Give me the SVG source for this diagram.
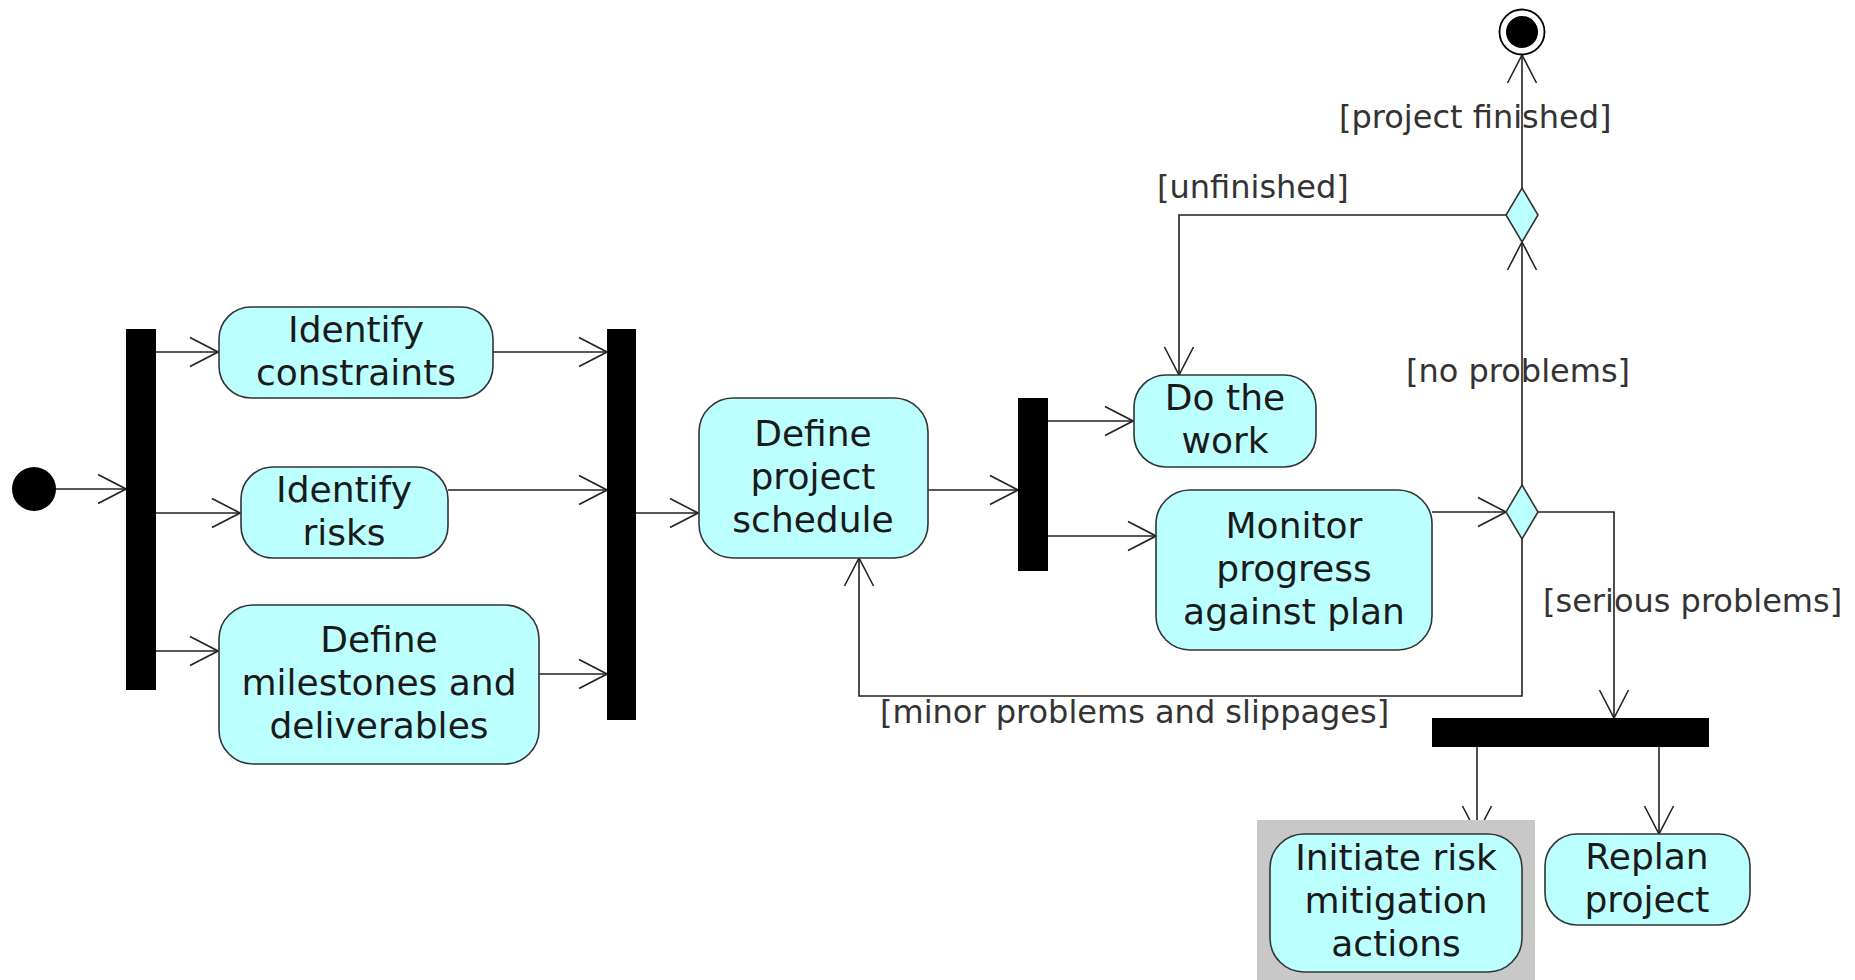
<svg xmlns="http://www.w3.org/2000/svg" width="1855" height="980" viewBox="0 0 1855 980">
<defs>
<style>
.act{fill:#bbffff;stroke:#333;stroke-width:1.6}
.bar{fill:#000}
.dec{fill:#bbffff;stroke:#333;stroke-width:1.6}
.nt{font-family:"DejaVu Sans",sans-serif;font-size:36px;fill:#1a1a1a;text-anchor:middle}
.lb{font-family:"DejaVu Sans",sans-serif;font-size:32px;fill:#333}
.c{fill:none;stroke:#222;stroke-width:1.6}
</style>
<marker id="arr" viewBox="0 0 30 32" refX="29" refY="16" markerWidth="30" markerHeight="32" markerUnits="userSpaceOnUse" orient="auto">
<path d="M1,1.5 L29,16 L1,30.5" fill="none" stroke="#222" stroke-width="1.6"/>
</marker>
</defs>
<rect width="1855" height="980" fill="#fff"/>

<g id="connectors">
<line class="c" x1="56" y1="489" x2="126" y2="489" marker-end="url(#arr)"/>
<line class="c" x1="156" y1="352" x2="218" y2="352" marker-end="url(#arr)"/>
<line class="c" x1="156" y1="513" x2="240" y2="513" marker-end="url(#arr)"/>
<line class="c" x1="156" y1="651" x2="218" y2="651" marker-end="url(#arr)"/>
<line class="c" x1="493" y1="352" x2="607" y2="352" marker-end="url(#arr)"/>
<line class="c" x1="448" y1="490" x2="607" y2="490" marker-end="url(#arr)"/>
<line class="c" x1="539" y1="674" x2="607" y2="674" marker-end="url(#arr)"/>
<line class="c" x1="636" y1="513" x2="698" y2="513" marker-end="url(#arr)"/>
<line class="c" x1="928" y1="490" x2="1018" y2="490" marker-end="url(#arr)"/>
<line class="c" x1="1048" y1="421" x2="1133" y2="421" marker-end="url(#arr)"/>
<line class="c" x1="1048" y1="536" x2="1156" y2="536" marker-end="url(#arr)"/>
<line class="c" x1="1432" y1="512" x2="1506" y2="512" marker-end="url(#arr)"/>
<line class="c" x1="1522" y1="485" x2="1522" y2="242" marker-end="url(#arr)"/>
<polyline class="c" points="1506,215 1179,215 1179,375" marker-end="url(#arr)"/>
<line class="c" x1="1522" y1="188" x2="1522" y2="55" marker-end="url(#arr)"/>
<polyline class="c" points="1538,512 1614,512 1614,718" marker-end="url(#arr)"/>
<polyline class="c" points="1522,539 1522,696 859,696 859,558" marker-end="url(#arr)"/>
<line class="c" x1="1477" y1="747" x2="1477" y2="834" marker-end="url(#arr)"/>
<line class="c" x1="1659" y1="747" x2="1659" y2="834" marker-end="url(#arr)"/>
<text class="lb" x="1339" y="128">[project finished]</text>
<text class="lb" x="1157" y="198">[unfinished]</text>
<text class="lb" x="1406" y="382">[no problems]</text>
<text class="lb" x="1543" y="612">[serious problems]</text>
<text class="lb" x="880" y="723">[minor problems and slippages]</text>
</g>

<g id="initial"><circle cx="34" cy="489" r="22" fill="#000"/></g>
<g id="fork1"><rect class="bar" x="126" y="329" width="30" height="361"/></g>
<g id="identify-constraints">
<rect class="act" x="219" y="307" width="274" height="91" rx="32"/>
<text class="nt" x="356" y="342">Identify</text>
<text class="nt" x="356" y="385">constraints</text>
</g>
<g id="identify-risks">
<rect class="act" x="241" y="467" width="207" height="91" rx="32"/>
<text class="nt" x="344" y="502">Identify</text>
<text class="nt" x="344" y="545">risks</text>
</g>
<g id="define-milestones">
<rect class="act" x="219" y="605" width="320" height="159" rx="34"/>
<text class="nt" x="379" y="652">Define</text>
<text class="nt" x="379" y="695">milestones and</text>
<text class="nt" x="379" y="738">deliverables</text>
</g>
<g id="join2"><rect class="bar" x="607" y="329" width="29" height="391"/></g>
<g id="define-schedule">
<rect class="act" x="699" y="398" width="229" height="160" rx="34"/>
<text class="nt" x="813" y="446">Define</text>
<text class="nt" x="813" y="489">project</text>
<text class="nt" x="813" y="532">schedule</text>
</g>
<g id="fork3"><rect class="bar" x="1018" y="398" width="30" height="173"/></g>
<g id="do-work">
<rect class="act" x="1134" y="375" width="182" height="92" rx="32"/>
<text class="nt" x="1225" y="410">Do the</text>
<text class="nt" x="1225" y="453">work</text>
</g>
<g id="monitor">
<rect class="act" x="1156" y="490" width="276" height="160" rx="34"/>
<text class="nt" x="1294" y="538">Monitor</text>
<text class="nt" x="1294" y="581">progress</text>
<text class="nt" x="1294" y="624">against plan</text>
</g>
<g id="decision-progress"><polygon class="dec" points="1522,485 1538,512 1522,539 1506,512"/></g>
<g id="decision-finished"><polygon class="dec" points="1522,188 1538,215 1522,242 1506,215"/></g>
<g id="final">
<circle cx="1522" cy="32" r="22.5" fill="#fff" stroke="#000" stroke-width="1.8"/>
<circle cx="1522" cy="32" r="16" fill="#000"/>
</g>
<g id="fork4"><rect class="bar" x="1432" y="718" width="277" height="29"/></g>
<g id="initiate-risk">
<rect x="1257" y="820" width="278" height="160" fill="#c8c8c8"/>
<rect class="act" x="1270" y="834" width="252" height="138" rx="34"/>
<text class="nt" x="1396" y="870">Initiate risk</text>
<text class="nt" x="1396" y="913">mitigation</text>
<text class="nt" x="1396" y="956">actions</text>
</g>
<g id="replan">
<rect class="act" x="1545" y="834" width="205" height="91" rx="32"/>
<text class="nt" x="1647" y="869">Replan</text>
<text class="nt" x="1647" y="912">project</text>
</g>
</svg>
